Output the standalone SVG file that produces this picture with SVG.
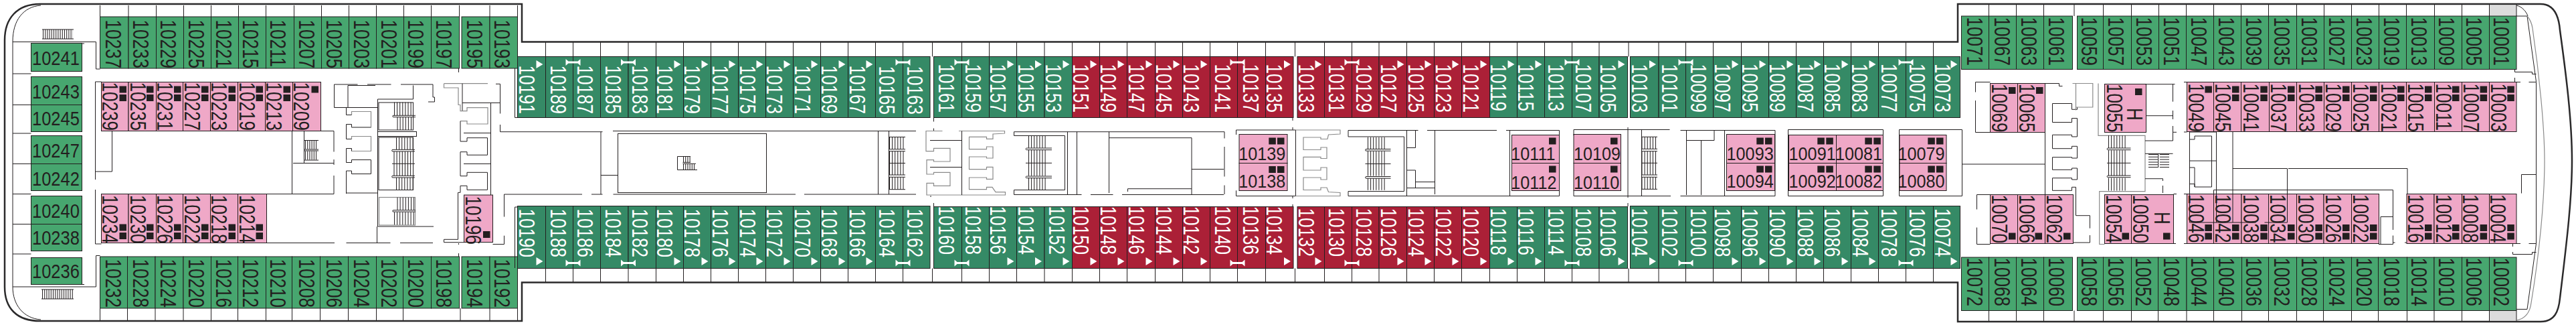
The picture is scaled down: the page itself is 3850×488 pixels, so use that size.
<svg xmlns="http://www.w3.org/2000/svg" width="3850" height="488" viewBox="0 0 3850 488">
<style>
text{font-family:"Liberation Sans",Arial,sans-serif;font-size:33px;fill:#231f20}
text.w{fill:#fff}
text.h{font-size:30px}
text.p{font-size:28px}
.c rect{stroke:#231f20;stroke-width:1}
.lg rect{fill:#47a66f}.dg rect{fill:#358a66}.rd rect{fill:#ab2037}.pk rect{fill:#efa8c7}
.l path,.l rect{fill:none;stroke:#231f20}
.l path:not([stroke-width]),.l rect{stroke-width:1}
.l path.g,.l rect.g{stroke:#8a8a8a;stroke-width:1.2}
.l path.st{stroke-dasharray:1 3.1}
.l path.ss{stroke-dasharray:1 2.2}
.l path.tr{stroke-dasharray:1 2.8}
#hull{fill:none;stroke:#2b2a2b;stroke-width:2.5}
</style>
<defs>
<polygon id="tri" points="-14,0 -4,6 -14,12" fill="#fff"/>
<path id="ib" d="M-11-5L-7-1.500H7L11-5V5L7 1.500H-7L-11 5Z" fill="#fff"/>
<rect id="sq" width="10.500" height="10" fill="#231f20"/>
</defs>
<rect width="3850" height="488" fill="#fff"/>
<rect x="3720.700" y="8" width="40.300" height="16" fill="#dcdcdc"/>
<rect x="3720.700" y="464" width="40.300" height="14" fill="#dcdcdc"/>

<g id="cabins-top-left" class="c lg">
<g id="c10237"><rect x="149.500" y="25" width="42.500" height="77"/><text transform="matrix(0 .79 -1 0 157.500 29.500)">10237</text></g>
<g id="c10233"><rect x="192" y="25" width="41.500" height="77"/><text transform="matrix(0 .79 -1 0 198.500 29.500)">10233</text></g>
<g id="c10229"><rect x="233.500" y="25" width="41" height="77"/><text transform="matrix(0 .79 -1 0 239.500 29.500)">10229</text></g>
<g id="c10225"><rect x="274.500" y="25" width="41" height="77"/><text transform="matrix(0 .79 -1 0 281.500 29.500)">10225</text></g>
<g id="c10221"><rect x="315.500" y="25" width="41" height="77"/><text transform="matrix(0 .79 -1 0 322.500 29.500)">10221</text></g>
<g id="c10215"><rect x="356.500" y="25" width="41" height="77"/><text transform="matrix(0 .79 -1 0 363 29.500)">10215</text></g>
<g id="c10211"><rect x="397.500" y="25" width="42" height="77"/><text transform="matrix(0 .79 -1 0 404 29.500)">10211</text></g>
<g id="c10207"><rect x="439.500" y="25" width="41" height="77"/><text transform="matrix(0 .79 -1 0 446.500 29.500)">10207</text></g>
<g id="c10205"><rect x="480.500" y="25" width="41" height="77"/><text transform="matrix(0 .79 -1 0 487.500 29.500)">10205</text></g>
<g id="c10203"><rect x="521.500" y="25" width="41" height="77"/><text transform="matrix(0 .79 -1 0 528.500 29.500)">10203</text></g>
<g id="c10201"><rect x="562.500" y="25" width="41" height="77"/><text transform="matrix(0 .79 -1 0 569.500 29.500)">10201</text></g>
<g id="c10199"><rect x="603.500" y="25" width="41" height="77"/><text transform="matrix(0 .79 -1 0 610 29.500)">10199</text></g>
<g id="c10197"><rect x="644.500" y="25" width="42" height="77"/><text transform="matrix(0 .79 -1 0 652 29.500)">10197</text></g>
<g id="c10195"><rect x="690" y="25" width="42" height="77"/><text transform="matrix(0 .79 -1 0 697.500 29.500)">10195</text></g>
<g id="c10193"><rect x="732" y="25" width="41.500" height="77"/><text transform="matrix(0 .79 -1 0 739 29.500)">10193</text></g>
</g>

<g id="cabins-bottom-left" class="c lg">
<g id="c10232"><rect x="149.500" y="383" width="41" height="77"/><text transform="matrix(0 .79 -1 0 157.500 386.500)">10232</text></g>
<g id="c10228"><rect x="190.500" y="383" width="41.500" height="77"/><text transform="matrix(0 .79 -1 0 198.500 386.500)">10228</text></g>
<g id="c10224"><rect x="232" y="383" width="42" height="77"/><text transform="matrix(0 .79 -1 0 239.500 386.500)">10224</text></g>
<g id="c10220"><rect x="274" y="383" width="41.500" height="77"/><text transform="matrix(0 .79 -1 0 281.500 386.500)">10220</text></g>
<g id="c10216"><rect x="315.500" y="383" width="40" height="77"/><text transform="matrix(0 .79 -1 0 322.500 386.500)">10216</text></g>
<g id="c10212"><rect x="355.500" y="383" width="42" height="77"/><text transform="matrix(0 .79 -1 0 363 386.500)">10212</text></g>
<g id="c10210"><rect x="397.500" y="383" width="39" height="77"/><text transform="matrix(0 .79 -1 0 404 386.500)">10210</text></g>
<g id="c10208"><rect x="436.500" y="383" width="42" height="77"/><text transform="matrix(0 .79 -1 0 446.500 386.500)">10208</text></g>
<g id="c10206"><rect x="478.500" y="383" width="42" height="77"/><text transform="matrix(0 .79 -1 0 487.500 386.500)">10206</text></g>
<g id="c10204"><rect x="520.500" y="383" width="42" height="77"/><text transform="matrix(0 .79 -1 0 528.500 386.500)">10204</text></g>
<g id="c10202"><rect x="562.500" y="383" width="40" height="77"/><text transform="matrix(0 .79 -1 0 569.500 386.500)">10202</text></g>
<g id="c10200"><rect x="602.500" y="383" width="42" height="77"/><text transform="matrix(0 .79 -1 0 610 386.500)">10200</text></g>
<g id="c10198"><rect x="644.500" y="383" width="42" height="77"/><text transform="matrix(0 .79 -1 0 652 386.500)">10198</text></g>
<g id="c10194"><rect x="690" y="383" width="42" height="77"/><text transform="matrix(0 .79 -1 0 697.500 386.500)">10194</text></g>
<g id="c10192"><rect x="732" y="383" width="41.500" height="77"/><text transform="matrix(0 .79 -1 0 739 386.500)">10192</text></g>
</g>

<g id="cabins-aft-end" class="c lg">
<g id="c10241"><rect x="46.500" y="64.500" width="76" height="42"/><text class="h" transform="matrix(.85 0 0 1 48 97.300)">10241</text></g>
<g id="c10243"><rect x="46.500" y="114.500" width="76" height="42"/><text class="h" transform="matrix(.85 0 0 1 48 147)">10243</text></g>
<g id="c10245"><rect x="46.500" y="156.500" width="76" height="40"/><text class="h" transform="matrix(.85 0 0 1 48 186.700)">10245</text></g>
<g id="c10247"><rect x="46.500" y="202.500" width="76" height="42"/><text class="h" transform="matrix(.85 0 0 1 48 235)">10247</text></g>
<g id="c10242"><rect x="46.500" y="244.500" width="76" height="40"/><text class="h" transform="matrix(.85 0 0 1 48 276.700)">10242</text></g>
<g id="c10240"><rect x="46.500" y="292.500" width="76" height="42"/><text class="h" transform="matrix(.85 0 0 1 48 325)">10240</text></g>
<g id="c10238"><rect x="46.500" y="334.500" width="76" height="40"/><text class="h" transform="matrix(.85 0 0 1 48 365)">10238</text></g>
<g id="c10236"><rect x="46.500" y="384.500" width="76" height="40"/><text class="h" transform="matrix(.85 0 0 1 48 415)">10236</text></g>
</g>

<g id="cabins-pink-left" class="c pk">
<g id="c10239"><rect x="151.500" y="122.500" width="40.500" height="73"/><text transform="matrix(0 .79 -1 0 153 122.500)">10239</text><use href="#sq" x="178.500" y="128.500"/><use href="#sq" x="178.500" y="141"/></g>
<g id="c10235"><rect x="192" y="122.500" width="41.500" height="73"/><text transform="matrix(0 .79 -1 0 194.500 122.500)">10235</text><use href="#sq" x="219" y="128.500"/><use href="#sq" x="219" y="141"/></g>
<g id="c10231"><rect x="233.500" y="122.500" width="40" height="73"/><text transform="matrix(0 .79 -1 0 234.700 122.500)">10231</text><use href="#sq" x="260" y="128.500"/><use href="#sq" x="260" y="141"/></g>
<g id="c10227"><rect x="273.500" y="122.500" width="41" height="73"/><text transform="matrix(0 .79 -1 0 276.300 122.500)">10227</text><use href="#sq" x="301" y="128.500"/><use href="#sq" x="301" y="141"/></g>
<g id="c10223"><rect x="314.500" y="122.500" width="41" height="73"/><text transform="matrix(0 .79 -1 0 316.300 122.500)">10223</text><use href="#sq" x="341.500" y="128.500"/><use href="#sq" x="341.500" y="141"/></g>
<g id="c10219"><rect x="355.500" y="122.500" width="41" height="73"/><text transform="matrix(0 .79 -1 0 358 122.500)">10219</text><use href="#sq" x="382.500" y="128.500"/><use href="#sq" x="382.500" y="141"/></g>
<g id="c10213"><rect x="396.500" y="122.500" width="41" height="73"/><text transform="matrix(0 .79 -1 0 398 122.500)">10213</text><use href="#sq" x="423.500" y="128.500"/><use href="#sq" x="423.500" y="141"/></g>
<g id="c10209"><rect x="437.500" y="122.500" width="42" height="73"/><text transform="matrix(0 .79 -1 0 438.800 122.500)">10209</text><use href="#sq" x="465.500" y="128.500"/></g>
<g id="c10234"><rect x="151.500" y="289.500" width="40.500" height="73"/><text transform="matrix(0 .79 -1 0 153 291)">10234</text><use href="#sq" x="178.500" y="334.500"/><use href="#sq" x="178.500" y="347"/></g>
<g id="c10230"><rect x="192" y="289.500" width="41.500" height="73"/><text transform="matrix(0 .79 -1 0 194.500 291)">10230</text><use href="#sq" x="219" y="334.500"/><use href="#sq" x="219" y="347"/></g>
<g id="c10226"><rect x="233.500" y="289.500" width="40" height="73"/><text transform="matrix(0 .79 -1 0 234.700 291)">10226</text><use href="#sq" x="260" y="334.500"/><use href="#sq" x="260" y="347"/></g>
<g id="c10222"><rect x="273.500" y="289.500" width="41" height="73"/><text transform="matrix(0 .79 -1 0 276.300 291)">10222</text><use href="#sq" x="301" y="334.500"/><use href="#sq" x="301" y="347"/></g>
<g id="c10218"><rect x="314.500" y="289.500" width="41" height="73"/><text transform="matrix(0 .79 -1 0 316.300 291)">10218</text><use href="#sq" x="341.500" y="334.500"/><use href="#sq" x="341.500" y="347"/></g>
<g id="c10214"><rect x="355.500" y="289.500" width="43" height="73"/><text transform="matrix(0 .79 -1 0 358 291)">10214</text><use href="#sq" x="382.500" y="334.500"/><use href="#sq" x="382.500" y="347"/></g>
<g id="c10196"><rect x="693.500" y="291" width="43" height="70.500"/><text transform="matrix(0 .79 -1 0 696 292.500)">10196</text><use href="#sq" x="722" y="345"/></g>
</g>

<g id="cabins-mid-top">
<g class="c dg">
<g id="c10191"><rect x="773.500" y="84.500" width="42" height="91"/><text class="w" transform="matrix(0 .79 -1 0 776 97.500)">10191</text></g>
<g id="c10189"><rect x="815.500" y="84.500" width="41" height="91"/><text class="w" transform="matrix(0 .79 -1 0 822.500 97.500)">10189</text></g>
<g id="c10187"><rect x="856.500" y="84.500" width="41" height="91"/><text class="w" transform="matrix(0 .79 -1 0 863.300 97.500)">10187</text></g>
<g id="c10185"><rect x="897.500" y="84.500" width="41.500" height="91"/><text class="w" transform="matrix(0 .79 -1 0 904.500 97.500)">10185</text></g>
<g id="c10183"><rect x="939" y="84.500" width="41.500" height="91"/><text class="w" transform="matrix(0 .79 -1 0 945.300 97.500)">10183</text></g>
<g id="c10181"><rect x="980.500" y="84.500" width="41" height="91"/><text class="w" transform="matrix(0 .79 -1 0 982 97.500)">10181</text></g>
<g id="c10179"><rect x="1021.500" y="84.500" width="41" height="91"/><text class="w" transform="matrix(0 .79 -1 0 1023 97.500)">10179</text></g>
<g id="c10177"><rect x="1062.500" y="84.500" width="41" height="91"/><text class="w" transform="matrix(0 .79 -1 0 1064.500 97.500)">10177</text></g>
<g id="c10175"><rect x="1103.500" y="84.500" width="41" height="91"/><text class="w" transform="matrix(0 .79 -1 0 1105.500 97.500)">10175</text></g>
<g id="c10173"><rect x="1144.500" y="84.500" width="41" height="91"/><text class="w" transform="matrix(0 .79 -1 0 1146 97.500)">10173</text></g>
<g id="c10171"><rect x="1185.500" y="84.500" width="41" height="91"/><text class="w" transform="matrix(0 .79 -1 0 1187.500 97.500)">10171</text></g>
<g id="c10169"><rect x="1226.500" y="84.500" width="41" height="91"/><text class="w" transform="matrix(0 .79 -1 0 1228 97.500)">10169</text></g>
<g id="c10167"><rect x="1267.500" y="84.500" width="41" height="91"/><text class="w" transform="matrix(0 .79 -1 0 1270 97.500)">10167</text></g>
<g id="c10165"><rect x="1308.500" y="84.500" width="41" height="91"/><text class="w" transform="matrix(0 .79 -1 0 1314 98.500)">10165</text></g>
<g id="c10163"><rect x="1349.500" y="84.500" width="40.500" height="91"/><text class="w" transform="matrix(0 .79 -1 0 1355.500 98.500)">10163</text></g>
<g id="c10161"><rect x="1395.500" y="84.500" width="42" height="91"/><text class="w" transform="matrix(0 .79 -1 0 1402.500 95.500)">10161</text></g>
<g id="c10159"><rect x="1437.500" y="84.500" width="41" height="91"/><text class="w" transform="matrix(0 .79 -1 0 1443.300 95.500)">10159</text></g>
<g id="c10157"><rect x="1478.500" y="84.500" width="41" height="91"/><text class="w" transform="matrix(0 .79 -1 0 1480 95.500)">10157</text></g>
<g id="c10155"><rect x="1519.500" y="84.500" width="41.500" height="91"/><text class="w" transform="matrix(0 .79 -1 0 1521.500 95.500)">10155</text></g>
<g id="c10153"><rect x="1561" y="84.500" width="41.500" height="91"/><text class="w" transform="matrix(0 .79 -1 0 1562.500 95.500)">10153</text></g>
<g id="c10119"><rect x="2226.500" y="84.500" width="41" height="91"/><text class="w" transform="matrix(0 .79 -1 0 2228 95.500)">10119</text></g>
<g id="c10115"><rect x="2267.500" y="84.500" width="41" height="91"/><text class="w" transform="matrix(0 .79 -1 0 2269 95.500)">10115</text></g>
<g id="c10113"><rect x="2308.500" y="84.500" width="41" height="91"/><text class="w" transform="matrix(0 .79 -1 0 2314 95.500)">10113</text></g>
<g id="c10107"><rect x="2349.500" y="84.500" width="40.500" height="91"/><text class="w" transform="matrix(0 .79 -1 0 2355 95.500)">10107</text></g>
<g id="c10105"><rect x="2390" y="84.500" width="42.500" height="91"/><text class="w" transform="matrix(0 .79 -1 0 2392 95.500)">10105</text></g>
<g id="c10103"><rect x="2436.500" y="84.500" width="42.500" height="91"/><text class="w" transform="matrix(0 .79 -1 0 2439 95.500)">10103</text></g>
<g id="c10101"><rect x="2479" y="84.500" width="40.500" height="91"/><text class="w" transform="matrix(0 .79 -1 0 2484 95.500)">10101</text></g>
<g id="c10099"><rect x="2519.500" y="84.500" width="41" height="91"/><text class="w" transform="matrix(0 .79 -1 0 2526.500 95.500)">10099</text></g>
<g id="c10097"><rect x="2560.500" y="84.500" width="42" height="91"/><text class="w" transform="matrix(0 .79 -1 0 2563 95)">10097</text></g>
<g id="c10095"><rect x="2602.500" y="84.500" width="41" height="91"/><text class="w" transform="matrix(0 .79 -1 0 2604 95)">10095</text></g>
<g id="c10089"><rect x="2643.500" y="84.500" width="41" height="91"/><text class="w" transform="matrix(0 .79 -1 0 2645 95)">10089</text></g>
<g id="c10087"><rect x="2684.500" y="84.500" width="41" height="91"/><text class="w" transform="matrix(0 .79 -1 0 2686.500 95)">10087</text></g>
<g id="c10085"><rect x="2725.500" y="84.500" width="41" height="91"/><text class="w" transform="matrix(0 .79 -1 0 2727.300 95)">10085</text></g>
<g id="c10083"><rect x="2766.500" y="84.500" width="41" height="91"/><text class="w" transform="matrix(0 .79 -1 0 2768 95)">10083</text></g>
<g id="c10077"><rect x="2807.500" y="84.500" width="41" height="91"/><text class="w" transform="matrix(0 .79 -1 0 2812 95)">10077</text></g>
<g id="c10075"><rect x="2848.500" y="84.500" width="41" height="91"/><text class="w" transform="matrix(0 .79 -1 0 2854 95)">10075</text></g>
<g id="c10073"><rect x="2889.500" y="84.500" width="40" height="91"/><text class="w" transform="matrix(0 .79 -1 0 2892 95)">10073</text></g>
</g>
<g class="c rd">
<g id="c10151"><rect x="1602.500" y="84.500" width="41" height="91"/><text class="w" transform="matrix(0 .79 -1 0 1603.500 95.500)">10151</text></g>
<g id="c10149"><rect x="1643.500" y="84.500" width="41" height="91"/><text class="w" transform="matrix(0 .79 -1 0 1645.300 95.500)">10149</text></g>
<g id="c10147"><rect x="1684.500" y="84.500" width="42" height="91"/><text class="w" transform="matrix(0 .79 -1 0 1687 95.500)">10147</text></g>
<g id="c10145"><rect x="1726.500" y="84.500" width="41" height="91"/><text class="w" transform="matrix(0 .79 -1 0 1728.300 95.500)">10145</text></g>
<g id="c10143"><rect x="1767.500" y="84.500" width="41" height="91"/><text class="w" transform="matrix(0 .79 -1 0 1769 95.500)">10143</text></g>
<g id="c10141"><rect x="1808.500" y="84.500" width="41" height="91"/><text class="w" transform="matrix(0 .79 -1 0 1815.500 95.500)">10141</text></g>
<g id="c10137"><rect x="1849.500" y="84.500" width="42" height="91"/><text class="w" transform="matrix(0 .79 -1 0 1857.500 95.500)">10137</text></g>
<g id="c10135"><rect x="1891.500" y="84.500" width="41.500" height="91"/><text class="w" transform="matrix(0 .79 -1 0 1893 95.500)">10135</text></g>
<g id="c10133"><rect x="1939" y="84.500" width="40.500" height="91"/><text class="w" transform="matrix(0 .79 -1 0 1941.200 95.500)">10133</text></g>
<g id="c10131"><rect x="1979.500" y="84.500" width="41" height="91"/><text class="w" transform="matrix(0 .79 -1 0 1986 95.500)">10131</text></g>
<g id="c10129"><rect x="2020.500" y="84.500" width="40.500" height="91"/><text class="w" transform="matrix(0 .79 -1 0 2027 95.500)">10129</text></g>
<g id="c10127"><rect x="2061" y="84.500" width="41.500" height="91"/><text class="w" transform="matrix(0 .79 -1 0 2063.700 95.500)">10127</text></g>
<g id="c10125"><rect x="2102.500" y="84.500" width="41" height="91"/><text class="w" transform="matrix(0 .79 -1 0 2105 95.500)">10125</text></g>
<g id="c10123"><rect x="2143.500" y="84.500" width="41" height="91"/><text class="w" transform="matrix(0 .79 -1 0 2145.700 95.500)">10123</text></g>
<g id="c10121"><rect x="2184.500" y="84.500" width="42" height="91"/><text class="w" transform="matrix(0 .79 -1 0 2186.500 95.500)">10121</text></g>
</g>
</g>

<g id="cabins-mid-bottom">
<g class="c dg">
<g id="c10190"><rect x="773.500" y="307.500" width="42" height="93"/><text class="w" transform="matrix(0 .79 -1 0 776 311.500)">10190</text></g>
<g id="c10188"><rect x="815.500" y="307.500" width="41" height="93"/><text class="w" transform="matrix(0 .79 -1 0 822.500 311.500)">10188</text></g>
<g id="c10186"><rect x="856.500" y="307.500" width="41" height="93"/><text class="w" transform="matrix(0 .79 -1 0 863.300 311.500)">10186</text></g>
<g id="c10184"><rect x="897.500" y="307.500" width="41.500" height="93"/><text class="w" transform="matrix(0 .79 -1 0 905 311.500)">10184</text></g>
<g id="c10182"><rect x="939" y="307.500" width="41.500" height="93"/><text class="w" transform="matrix(0 .79 -1 0 945.300 311.500)">10182</text></g>
<g id="c10180"><rect x="980.500" y="307.500" width="41" height="93"/><text class="w" transform="matrix(0 .79 -1 0 982 311.500)">10180</text></g>
<g id="c10178"><rect x="1021.500" y="307.500" width="41" height="93"/><text class="w" transform="matrix(0 .79 -1 0 1023 311.500)">10178</text></g>
<g id="c10176"><rect x="1062.500" y="307.500" width="41" height="93"/><text class="w" transform="matrix(0 .79 -1 0 1064.500 311.500)">10176</text></g>
<g id="c10174"><rect x="1103.500" y="307.500" width="41" height="93"/><text class="w" transform="matrix(0 .79 -1 0 1105.500 311.500)">10174</text></g>
<g id="c10172"><rect x="1144.500" y="307.500" width="41" height="93"/><text class="w" transform="matrix(0 .79 -1 0 1146 311.500)">10172</text></g>
<g id="c10170"><rect x="1185.500" y="307.500" width="41" height="93"/><text class="w" transform="matrix(0 .79 -1 0 1187.500 311.500)">10170</text></g>
<g id="c10168"><rect x="1226.500" y="307.500" width="41" height="93"/><text class="w" transform="matrix(0 .79 -1 0 1228 311.500)">10168</text></g>
<g id="c10166"><rect x="1267.500" y="307.500" width="41" height="93"/><text class="w" transform="matrix(0 .79 -1 0 1270 311.500)">10166</text></g>
<g id="c10164"><rect x="1308.500" y="307.500" width="41" height="93"/><text class="w" transform="matrix(0 .79 -1 0 1314 311.500)">10164</text></g>
<g id="c10162"><rect x="1349.500" y="307.500" width="40.500" height="93"/><text class="w" transform="matrix(0 .79 -1 0 1355.500 311.500)">10162</text></g>
<g id="c10160"><rect x="1395.500" y="308.500" width="42" height="92"/><text class="w" transform="matrix(0 .79 -1 0 1402.500 307.500)">10160</text></g>
<g id="c10158"><rect x="1437.500" y="308.500" width="41" height="92"/><text class="w" transform="matrix(0 .79 -1 0 1443.300 307.500)">10158</text></g>
<g id="c10156"><rect x="1478.500" y="308.500" width="41" height="92"/><text class="w" transform="matrix(0 .79 -1 0 1480 307.500)">10156</text></g>
<g id="c10154"><rect x="1519.500" y="308.500" width="41.500" height="92"/><text class="w" transform="matrix(0 .79 -1 0 1521.500 307.500)">10154</text></g>
<g id="c10152"><rect x="1561" y="308.500" width="41.500" height="92"/><text class="w" transform="matrix(0 .79 -1 0 1567.500 307.500)">10152</text></g>
<g id="c10118"><rect x="2226.500" y="308.500" width="41" height="92"/><text class="w" transform="matrix(0 .79 -1 0 2228 310.500)">10118</text></g>
<g id="c10116"><rect x="2267.500" y="308.500" width="41" height="92"/><text class="w" transform="matrix(0 .79 -1 0 2269 310.500)">10116</text></g>
<g id="c10114"><rect x="2308.500" y="308.500" width="41" height="92"/><text class="w" transform="matrix(0 .79 -1 0 2314 310.500)">10114</text></g>
<g id="c10108"><rect x="2349.500" y="308.500" width="40.500" height="92"/><text class="w" transform="matrix(0 .79 -1 0 2355 310.500)">10108</text></g>
<g id="c10106"><rect x="2390" y="308.500" width="42.500" height="92"/><text class="w" transform="matrix(0 .79 -1 0 2392 310.500)">10106</text></g>
<g id="c10104"><rect x="2436.500" y="307.500" width="42.500" height="93"/><text class="w" transform="matrix(0 .79 -1 0 2439 310.500)">10104</text></g>
<g id="c10102"><rect x="2479" y="307.500" width="40.500" height="93"/><text class="w" transform="matrix(0 .79 -1 0 2484 310.500)">10102</text></g>
<g id="c10100"><rect x="2519.500" y="307.500" width="41" height="93"/><text class="w" transform="matrix(0 .79 -1 0 2526.500 310.500)">10100</text></g>
<g id="c10098"><rect x="2560.500" y="307.500" width="42" height="93"/><text class="w" transform="matrix(0 .79 -1 0 2563 311)">10098</text></g>
<g id="c10096"><rect x="2602.500" y="307.500" width="41" height="93"/><text class="w" transform="matrix(0 .79 -1 0 2604 311)">10096</text></g>
<g id="c10090"><rect x="2643.500" y="307.500" width="41" height="93"/><text class="w" transform="matrix(0 .79 -1 0 2645 311)">10090</text></g>
<g id="c10088"><rect x="2684.500" y="307.500" width="41" height="93"/><text class="w" transform="matrix(0 .79 -1 0 2686.500 311)">10088</text></g>
<g id="c10086"><rect x="2725.500" y="307.500" width="41" height="93"/><text class="w" transform="matrix(0 .79 -1 0 2727.300 311)">10086</text></g>
<g id="c10084"><rect x="2766.500" y="307.500" width="41" height="93"/><text class="w" transform="matrix(0 .79 -1 0 2769 311)">10084</text></g>
<g id="c10078"><rect x="2807.500" y="307.500" width="41" height="93"/><text class="w" transform="matrix(0 .79 -1 0 2812 311)">10078</text></g>
<g id="c10076"><rect x="2848.500" y="307.500" width="41" height="93"/><text class="w" transform="matrix(0 .79 -1 0 2854 311)">10076</text></g>
<g id="c10074"><rect x="2889.500" y="307.500" width="40" height="93"/><text class="w" transform="matrix(0 .79 -1 0 2892 311)">10074</text></g>
</g>
<g class="c rd">
<g id="c10150"><rect x="1602.500" y="308.500" width="41" height="92"/><text class="w" transform="matrix(0 .79 -1 0 1603.500 307.500)">10150</text></g>
<g id="c10148"><rect x="1643.500" y="308.500" width="41" height="92"/><text class="w" transform="matrix(0 .79 -1 0 1645.300 307.500)">10148</text></g>
<g id="c10146"><rect x="1684.500" y="308.500" width="42" height="92"/><text class="w" transform="matrix(0 .79 -1 0 1687 307.500)">10146</text></g>
<g id="c10144"><rect x="1726.500" y="308.500" width="41" height="92"/><text class="w" transform="matrix(0 .79 -1 0 1728.300 307.500)">10144</text></g>
<g id="c10142"><rect x="1767.500" y="308.500" width="41" height="92"/><text class="w" transform="matrix(0 .79 -1 0 1769 307.500)">10142</text></g>
<g id="c10140"><rect x="1808.500" y="308.500" width="41" height="92"/><text class="w" transform="matrix(0 .79 -1 0 1815.500 307.500)">10140</text></g>
<g id="c10136"><rect x="1849.500" y="308.500" width="42" height="92"/><text class="w" transform="matrix(0 .79 -1 0 1857.500 307.500)">10136</text></g>
<g id="c10134"><rect x="1891.500" y="308.500" width="41.500" height="92"/><text class="w" transform="matrix(0 .79 -1 0 1893 307.500)">10134</text></g>
<g id="c10132"><rect x="1939" y="308.500" width="40.500" height="92"/><text class="w" transform="matrix(0 .79 -1 0 1941.200 310.500)">10132</text></g>
<g id="c10130"><rect x="1979.500" y="308.500" width="41" height="92"/><text class="w" transform="matrix(0 .79 -1 0 1986 310.500)">10130</text></g>
<g id="c10128"><rect x="2020.500" y="308.500" width="40.500" height="92"/><text class="w" transform="matrix(0 .79 -1 0 2027 310.500)">10128</text></g>
<g id="c10126"><rect x="2061" y="308.500" width="41.500" height="92"/><text class="w" transform="matrix(0 .79 -1 0 2063.700 310.500)">10126</text></g>
<g id="c10124"><rect x="2102.500" y="308.500" width="41" height="92"/><text class="w" transform="matrix(0 .79 -1 0 2105 310.500)">10124</text></g>
<g id="c10122"><rect x="2143.500" y="308.500" width="41" height="92"/><text class="w" transform="matrix(0 .79 -1 0 2145.700 310.500)">10122</text></g>
<g id="c10120"><rect x="2184.500" y="308.500" width="42" height="92"/><text class="w" transform="matrix(0 .79 -1 0 2186.500 310.500)">10120</text></g>
</g>
</g>

<g id="cabin-marks">
<use href="#tri" x="815.500" y="90"/><use href="#tri" x="1021.500" y="90"/><use href="#tri" x="1062.500" y="90"/><use href="#tri" x="1103.500" y="90"/><use href="#tri" x="1144.500" y="90"/><use href="#tri" x="1185.500" y="90"/><use href="#tri" x="1226.500" y="90"/><use href="#tri" x="1267.500" y="90"/><use href="#tri" x="1308.500" y="90"/><use href="#tri" x="1519.500" y="90"/><use href="#tri" x="1561" y="90"/><use href="#tri" x="1602.500" y="90"/><use href="#tri" x="1643.500" y="90"/><use href="#tri" x="1684.500" y="90"/><use href="#tri" x="1726.500" y="90"/><use href="#tri" x="1767.500" y="90"/><use href="#tri" x="1808.500" y="90"/><use href="#tri" x="1933" y="90"/><use href="#tri" x="1979.500" y="90"/><use href="#tri" x="2102.500" y="90"/><use href="#tri" x="2143.500" y="90"/><use href="#tri" x="2184.500" y="90"/><use href="#tri" x="2226.500" y="90"/><use href="#tri" x="2267.500" y="90"/><use href="#tri" x="2308.500" y="90"/><use href="#tri" x="2432.500" y="90"/><use href="#tri" x="2479" y="90"/><use href="#tri" x="2602.500" y="90"/><use href="#tri" x="2643.500" y="90"/><use href="#tri" x="2684.500" y="90"/><use href="#tri" x="2725.500" y="90"/><use href="#tri" x="2766.500" y="90"/><use href="#tri" x="2807.500" y="90"/><use href="#tri" x="2929.500" y="90"/>
<use href="#tri" x="815.500" y="384"/><use href="#tri" x="1021.500" y="384"/><use href="#tri" x="1062.500" y="384"/><use href="#tri" x="1103.500" y="384"/><use href="#tri" x="1144.500" y="384"/><use href="#tri" x="1185.500" y="384"/><use href="#tri" x="1226.500" y="384"/><use href="#tri" x="1267.500" y="384"/><use href="#tri" x="1308.500" y="384"/><use href="#tri" x="1519.500" y="384"/><use href="#tri" x="1561" y="384"/><use href="#tri" x="1602.500" y="384"/><use href="#tri" x="1643.500" y="384"/><use href="#tri" x="1684.500" y="384"/><use href="#tri" x="1726.500" y="384"/><use href="#tri" x="1767.500" y="384"/><use href="#tri" x="1808.500" y="384"/><use href="#tri" x="1933" y="384"/><use href="#tri" x="1979.500" y="384"/><use href="#tri" x="2102.500" y="384"/><use href="#tri" x="2143.500" y="384"/><use href="#tri" x="2184.500" y="384"/><use href="#tri" x="2226.500" y="384"/><use href="#tri" x="2267.500" y="384"/><use href="#tri" x="2308.500" y="384"/><use href="#tri" x="2432.500" y="384"/><use href="#tri" x="2479" y="384"/><use href="#tri" x="2602.500" y="384"/><use href="#tri" x="2643.500" y="384"/><use href="#tri" x="2684.500" y="384"/><use href="#tri" x="2725.500" y="384"/><use href="#tri" x="2766.500" y="384"/><use href="#tri" x="2807.500" y="384"/><use href="#tri" x="2929.500" y="384"/>
<use href="#ib" x="856.500" y="93"/><use href="#ib" x="939" y="93"/><use href="#ib" x="1349.500" y="93"/><use href="#ib" x="1437.500" y="93"/><use href="#ib" x="1849.500" y="93"/><use href="#ib" x="2020.500" y="93"/><use href="#ib" x="2349.500" y="93"/><use href="#ib" x="2519.500" y="93"/><use href="#ib" x="2848.500" y="93"/>
<use href="#ib" x="856.500" y="392.500"/><use href="#ib" x="939" y="392.500"/><use href="#ib" x="1349.500" y="392.500"/><use href="#ib" x="1437.500" y="392.500"/><use href="#ib" x="1849.500" y="392.500"/><use href="#ib" x="2020.500" y="392.500"/><use href="#ib" x="2349.500" y="392.500"/><use href="#ib" x="2519.500" y="392.500"/><use href="#ib" x="2848.500" y="392.500"/>
</g>

<g id="cabins-mid-pink" class="c pk">
<g id="c10139"><rect x="1852" y="200.500" width="72" height="43"/><text class="p" transform="matrix(.9 0 0 1 1851.300 239.300)">10139</text><use href="#sq" x="1896.300" y="205.500"/><use href="#sq" x="1909" y="205.500"/></g>
<g id="c10138"><rect x="1852" y="243.500" width="72" height="41"/><text class="p" transform="matrix(.9 0 0 1 1851.300 280)">10138</text><use href="#sq" x="1896.300" y="248"/><use href="#sq" x="1909" y="248"/></g>
<g id="c10111"><rect x="2259.500" y="201.500" width="71" height="42"/><text class="p" transform="matrix(.9 0 0 1 2258.300 238.500)">10111</text><use href="#sq" x="2315" y="205.500"/></g>
<g id="c10112"><rect x="2259.500" y="243.500" width="71" height="41"/><text class="p" transform="matrix(.9 0 0 1 2258.300 281.500)">10112</text><use href="#sq" x="2315" y="247.500"/></g>
<g id="c10109"><rect x="2352" y="200.500" width="70.500" height="43"/><text class="p" transform="matrix(.9 0 0 1 2352 238.500)">10109</text><use href="#sq" x="2407" y="205.500"/></g>
<g id="c10110"><rect x="2352" y="243.500" width="70.500" height="41"/><text class="p" transform="matrix(.9 0 0 1 2352 281.500)">10110</text><use href="#sq" x="2407" y="247.500"/></g>
<g id="c10093"><rect x="2580.500" y="200.500" width="72" height="43"/><text class="p" transform="matrix(.9 0 0 1 2580.600 239.300)">10093</text><use href="#sq" x="2625.300" y="205.500"/><use href="#sq" x="2638" y="205.500"/></g>
<g id="c10094"><rect x="2580.500" y="243.500" width="72" height="41"/><text class="p" transform="matrix(.9 0 0 1 2580.600 280)">10094</text><use href="#sq" x="2625.300" y="247.500"/><use href="#sq" x="2638" y="247.500"/></g>
<g id="c10091"><rect x="2673.500" y="201.500" width="71" height="42"/><text class="p" transform="matrix(.9 0 0 1 2673.600 239.300)">10091</text><use href="#sq" x="2716.300" y="205.500"/><use href="#sq" x="2729.300" y="205.500"/></g>
<g id="c10092"><rect x="2673.500" y="243.500" width="71" height="41"/><text class="p" transform="matrix(.9 0 0 1 2673.600 280)">10092</text><use href="#sq" x="2716.300" y="247.500"/><use href="#sq" x="2729.300" y="247.500"/></g>
<g id="c10081"><rect x="2744.500" y="201.500" width="70" height="42"/><text class="p" transform="matrix(.9 0 0 1 2743 239.300)">10081</text><use href="#sq" x="2787.300" y="205.500"/><use href="#sq" x="2800.300" y="205.500"/></g>
<g id="c10082"><rect x="2744.500" y="243.500" width="70" height="41"/><text class="p" transform="matrix(.9 0 0 1 2743 280)">10082</text><use href="#sq" x="2787.300" y="247.500"/><use href="#sq" x="2800.300" y="247.500"/></g>
<g id="c10079"><rect x="2839" y="201.500" width="70" height="42"/><text class="p" transform="matrix(.9 0 0 1 2836.500 239.300)">10079</text><use href="#sq" x="2881.300" y="205.500"/><use href="#sq" x="2894" y="205.500"/></g>
<g id="c10080"><rect x="2839" y="243.500" width="70" height="41"/><text class="p" transform="matrix(.9 0 0 1 2836.500 280)">10080</text><use href="#sq" x="2881.300" y="247.500"/><use href="#sq" x="2894" y="247.500"/></g>
</g>

<g id="cabins-top-right" class="c lg">
<g id="c10071"><rect x="2931.500" y="24" width="41" height="79.500"/><text transform="matrix(0 .79 -1 0 2939.500 25.500)">10071</text></g>
<g id="c10067"><rect x="2972.500" y="24" width="41" height="79.500"/><text transform="matrix(0 .79 -1 0 2980.500 25.500)">10067</text></g>
<g id="c10063"><rect x="3013.500" y="24" width="41" height="79.500"/><text transform="matrix(0 .79 -1 0 3021 25.500)">10063</text></g>
<g id="c10061"><rect x="3054.500" y="24" width="43" height="79.500"/><text transform="matrix(0 .79 -1 0 3061.500 25.500)">10061</text></g>
<g id="c10059"><rect x="3104.500" y="24" width="39" height="79.500"/><text transform="matrix(0 .79 -1 0 3110.500 25.500)">10059</text></g>
<g id="c10057"><rect x="3143.500" y="24" width="42" height="79.500"/><text transform="matrix(0 .79 -1 0 3151 25.500)">10057</text></g>
<g id="c10053"><rect x="3185.500" y="24" width="41" height="79.500"/><text transform="matrix(0 .79 -1 0 3193 25.500)">10053</text></g>
<g id="c10051"><rect x="3226.500" y="24" width="41" height="79.500"/><text transform="matrix(0 .79 -1 0 3233.500 25.500)">10051</text></g>
<g id="c10047"><rect x="3267.500" y="24" width="41" height="79.500"/><text transform="matrix(0 .79 -1 0 3274.500 25.500)">10047</text></g>
<g id="c10043"><rect x="3308.500" y="24" width="41" height="79.500"/><text transform="matrix(0 .79 -1 0 3316 25.500)">10043</text></g>
<g id="c10039"><rect x="3349.500" y="24" width="41" height="79.500"/><text transform="matrix(0 .79 -1 0 3357 25.500)">10039</text></g>
<g id="c10035"><rect x="3390.500" y="24" width="42" height="79.500"/><text transform="matrix(0 .79 -1 0 3398.500 25.500)">10035</text></g>
<g id="c10031"><rect x="3432.500" y="24" width="41" height="79.500"/><text transform="matrix(0 .79 -1 0 3439.500 25.500)">10031</text></g>
<g id="c10027"><rect x="3473.500" y="24" width="41" height="79.500"/><text transform="matrix(0 .79 -1 0 3480.500 25.500)">10027</text></g>
<g id="c10023"><rect x="3514.500" y="24" width="41" height="79.500"/><text transform="matrix(0 .79 -1 0 3521.500 25.500)">10023</text></g>
<g id="c10019"><rect x="3555.500" y="24" width="41" height="79.500"/><text transform="matrix(0 .79 -1 0 3562.500 25.500)">10019</text></g>
<g id="c10013"><rect x="3596.500" y="24" width="42" height="79.500"/><text transform="matrix(0 .79 -1 0 3603.500 25.500)">10013</text></g>
<g id="c10009"><rect x="3638.500" y="24" width="41" height="79.500"/><text transform="matrix(0 .79 -1 0 3644.500 25.500)">10009</text></g>
<g id="c10005"><rect x="3679.500" y="24" width="41" height="79.500"/><text transform="matrix(0 .79 -1 0 3685.500 25.500)">10005</text></g>
<g id="c10001"><rect x="3720.500" y="24" width="40.500" height="79.500"/><text transform="matrix(0 .79 -1 0 3727 25.500)">10001</text></g>
</g>

<g id="cabins-bottom-right" class="c lg">
<g id="c10072"><rect x="2931.500" y="384" width="41" height="79.500"/><text transform="matrix(0 .79 -1 0 2939.500 384.500)">10072</text></g>
<g id="c10068"><rect x="2972.500" y="384" width="41" height="79.500"/><text transform="matrix(0 .79 -1 0 2980.500 384.500)">10068</text></g>
<g id="c10064"><rect x="3013.500" y="384" width="41" height="79.500"/><text transform="matrix(0 .79 -1 0 3021 384.500)">10064</text></g>
<g id="c10060"><rect x="3054.500" y="384" width="43" height="79.500"/><text transform="matrix(0 .79 -1 0 3061.500 384.500)">10060</text></g>
<g id="c10058"><rect x="3104.500" y="384" width="39" height="79.500"/><text transform="matrix(0 .79 -1 0 3110.500 384.500)">10058</text></g>
<g id="c10056"><rect x="3143.500" y="384" width="42" height="79.500"/><text transform="matrix(0 .79 -1 0 3151 384.500)">10056</text></g>
<g id="c10052"><rect x="3185.500" y="384" width="40" height="79.500"/><text transform="matrix(0 .79 -1 0 3192 384.500)">10052</text></g>
<g id="c10048"><rect x="3225.500" y="384" width="42.500" height="79.500"/><text transform="matrix(0 .79 -1 0 3233.500 384.500)">10048</text></g>
<g id="c10044"><rect x="3268" y="384" width="40.500" height="79.500"/><text transform="matrix(0 .79 -1 0 3275 384.500)">10044</text></g>
<g id="c10040"><rect x="3308.500" y="384" width="42" height="79.500"/><text transform="matrix(0 .79 -1 0 3316 384.500)">10040</text></g>
<g id="c10036"><rect x="3350.500" y="384" width="40" height="79.500"/><text transform="matrix(0 .79 -1 0 3357 384.500)">10036</text></g>
<g id="c10032"><rect x="3390.500" y="384" width="42" height="79.500"/><text transform="matrix(0 .79 -1 0 3398.500 384.500)">10032</text></g>
<g id="c10028"><rect x="3432.500" y="384" width="40" height="79.500"/><text transform="matrix(0 .79 -1 0 3439.500 384.500)">10028</text></g>
<g id="c10024"><rect x="3472.500" y="384" width="42" height="79.500"/><text transform="matrix(0 .79 -1 0 3480.500 384.500)">10024</text></g>
<g id="c10020"><rect x="3514.500" y="384" width="40" height="79.500"/><text transform="matrix(0 .79 -1 0 3521.500 384.500)">10020</text></g>
<g id="c10018"><rect x="3554.500" y="384" width="43" height="79.500"/><text transform="matrix(0 .79 -1 0 3562.500 384.500)">10018</text></g>
<g id="c10014"><rect x="3597.500" y="384" width="40.500" height="79.500"/><text transform="matrix(0 .79 -1 0 3603.500 384.500)">10014</text></g>
<g id="c10010"><rect x="3638" y="384" width="41.500" height="79.500"/><text transform="matrix(0 .79 -1 0 3644.500 384.500)">10010</text></g>
<g id="c10006"><rect x="3679.500" y="384" width="41" height="79.500"/><text transform="matrix(0 .79 -1 0 3685.500 384.500)">10006</text></g>
<g id="c10002"><rect x="3720.500" y="384" width="40.500" height="79.500"/><text transform="matrix(0 .79 -1 0 3727 384.500)">10002</text></g>
</g>

<g id="cabins-pink-right" class="c pk">
<g id="c10069"><rect x="2974.500" y="124.500" width="41" height="73"/><text transform="matrix(0 .79 -1 0 2977 125)">10069</text><use href="#sq" x="3002" y="130"/></g>
<g id="c10065"><rect x="3015.500" y="124.500" width="41" height="73"/><text transform="matrix(0 .79 -1 0 3018 125)">10065</text><use href="#sq" x="3043" y="130"/></g>
<g id="c10055"><rect x="3145.500" y="125.500" width="62" height="72"/><text transform="matrix(0 .79 -1 0 3148.500 125)">10055</text><text transform="matrix(0 .79 -1 0 3179 161)">H</text><use href="#sq" x="3191" y="132"/></g>
<g id="c10070"><rect x="2974.500" y="290.500" width="41" height="73"/><text transform="matrix(0 .79 -1 0 2977 290.500)">10070</text><use href="#sq" x="3002" y="347.500"/></g>
<g id="c10066"><rect x="3015.500" y="290.500" width="41" height="73"/><text transform="matrix(0 .79 -1 0 3018 290.500)">10066</text><use href="#sq" x="3041.500" y="347.500"/></g>
<g id="c10062"><rect x="3056.500" y="290.500" width="42" height="73"/><text transform="matrix(0 .79 -1 0 3059 290.500)">10062</text><use href="#sq" x="3084" y="347.500"/></g>
<g id="c10054"><rect x="3145.500" y="290.500" width="40" height="73"/><text transform="matrix(0 .79 -1 0 3147.500 290.500)">10054</text><use href="#sq" x="3171.500" y="347.500"/></g>
<g id="c10050"><rect x="3185.500" y="290.500" width="63" height="73"/><text transform="matrix(0 .79 -1 0 3188 290.500)">10050</text><text transform="matrix(0 .79 -1 0 3220 316)">H</text><use href="#sq" x="3233" y="347.500"/></g>
<g id="c10049"><rect x="3268.500" y="122.500" width="40" height="74"/><text transform="matrix(0 .79 -1 0 3270.500 124.500)">10049</text><use href="#sq" x="3295.400" y="128.500"/></g>
<g id="c10045"><rect x="3308.500" y="122.500" width="41" height="74"/><text transform="matrix(0 .79 -1 0 3311 124.500)">10045</text><use href="#sq" x="3336" y="128.500"/><use href="#sq" x="3336" y="141"/></g>
<g id="c10041"><rect x="3349.500" y="122.500" width="42" height="74"/><text transform="matrix(0 .79 -1 0 3352.500 124.500)">10041</text><use href="#sq" x="3378.300" y="128.500"/><use href="#sq" x="3378.300" y="141"/></g>
<g id="c10037"><rect x="3391.500" y="122.500" width="41" height="74"/><text transform="matrix(0 .79 -1 0 3394 124.500)">10037</text><use href="#sq" x="3419" y="128.500"/><use href="#sq" x="3419" y="141"/></g>
<g id="c10033"><rect x="3432.500" y="122.500" width="41" height="74"/><text transform="matrix(0 .79 -1 0 3435.500 124.500)">10033</text><use href="#sq" x="3460.400" y="128.500"/><use href="#sq" x="3460.400" y="141"/></g>
<g id="c10029"><rect x="3473.500" y="122.500" width="41" height="74"/><text transform="matrix(0 .79 -1 0 3475.700 124.500)">10029</text><use href="#sq" x="3501" y="128.500"/><use href="#sq" x="3501" y="141"/></g>
<g id="c10025"><rect x="3514.500" y="122.500" width="41" height="74"/><text transform="matrix(0 .79 -1 0 3517 124.500)">10025</text><use href="#sq" x="3542" y="128.500"/><use href="#sq" x="3542" y="141"/></g>
<g id="c10021"><rect x="3555.500" y="122.500" width="41" height="74"/><text transform="matrix(0 .79 -1 0 3558.500 124.500)">10021</text><use href="#sq" x="3583" y="128.500"/><use href="#sq" x="3583" y="141"/></g>
<g id="c10015"><rect x="3596.500" y="122.500" width="42" height="74"/><text transform="matrix(0 .79 -1 0 3599 124.500)">10015</text><use href="#sq" x="3624" y="128.500"/><use href="#sq" x="3624" y="141"/></g>
<g id="c10011"><rect x="3638.500" y="122.500" width="41" height="74"/><text transform="matrix(0 .79 -1 0 3640.700 124.500)">10011</text><use href="#sq" x="3665" y="128.500"/><use href="#sq" x="3665" y="141"/></g>
<g id="c10007"><rect x="3679.500" y="122.500" width="41" height="74"/><text transform="matrix(0 .79 -1 0 3682 124.500)">10007</text><use href="#sq" x="3706.600" y="128.500"/><use href="#sq" x="3706.600" y="141"/></g>
<g id="c10003"><rect x="3720.500" y="122.500" width="40.500" height="74"/><text transform="matrix(0 .79 -1 0 3722.500 124.500)">10003</text><use href="#sq" x="3747.300" y="128.500"/><use href="#sq" x="3747.300" y="141"/></g>
<g id="c10046"><rect x="3268.500" y="289.500" width="40" height="74"/><text transform="matrix(0 .79 -1 0 3270.500 290)">10046</text><use href="#sq" x="3295.400" y="335"/><use href="#sq" x="3295.400" y="347.500"/></g>
<g id="c10042"><rect x="3308.500" y="289.500" width="41.500" height="74"/><text transform="matrix(0 .79 -1 0 3311 290)">10042</text><use href="#sq" x="3336" y="335"/><use href="#sq" x="3336" y="347.500"/></g>
<g id="c10038"><rect x="3350" y="289.500" width="40.500" height="74"/><text transform="matrix(0 .79 -1 0 3352.500 290)">10038</text><use href="#sq" x="3378.300" y="335"/><use href="#sq" x="3378.300" y="347.500"/></g>
<g id="c10034"><rect x="3390.500" y="289.500" width="42" height="74"/><text transform="matrix(0 .79 -1 0 3393 290)">10034</text><use href="#sq" x="3419" y="335"/><use href="#sq" x="3419" y="347.500"/></g>
<g id="c10030"><rect x="3432.500" y="289.500" width="40.500" height="74"/><text transform="matrix(0 .79 -1 0 3434.500 290)">10030</text><use href="#sq" x="3460.400" y="335"/><use href="#sq" x="3460.400" y="347.500"/></g>
<g id="c10026"><rect x="3473" y="289.500" width="41.500" height="74"/><text transform="matrix(0 .79 -1 0 3475.700 290)">10026</text><use href="#sq" x="3501" y="335"/><use href="#sq" x="3501" y="347.500"/></g>
<g id="c10022"><rect x="3514.500" y="289.500" width="41" height="74"/><text transform="matrix(0 .79 -1 0 3516.500 290)">10022</text><use href="#sq" x="3542" y="335"/><use href="#sq" x="3542" y="347.500"/></g>
<g id="c10016"><rect x="3597" y="289.500" width="41" height="74"/><text transform="matrix(0 .79 -1 0 3599 290)">10016</text><use href="#sq" x="3624" y="335"/><use href="#sq" x="3624" y="347.500"/></g>
<g id="c10012"><rect x="3638" y="289.500" width="41.500" height="74"/><text transform="matrix(0 .79 -1 0 3640.700 290)">10012</text><use href="#sq" x="3665" y="335"/><use href="#sq" x="3665" y="347.500"/></g>
<g id="c10008"><rect x="3679.500" y="289.500" width="41" height="74"/><text transform="matrix(0 .79 -1 0 3681 290)">10008</text><use href="#sq" x="3706.600" y="335"/><use href="#sq" x="3706.600" y="347.500"/></g>
<g id="c10004"><rect x="3720.500" y="289.500" width="40.500" height="74"/><text transform="matrix(0 .79 -1 0 3721.500 290)">10004</text><use href="#sq" x="3747.300" y="335"/><use href="#sq" x="3747.300" y="347.500"/></g>
</g>

<path id="hull" d="M780 62.500V6H60C25 6 7 28 7 60V428C7 460 25 479 60 479H780V421.500H2926V480H3797C3818 480 3824 465 3826 445C3835 370 3844 300 3844 240C3844 180 3835 110 3826 45C3824 20 3815 6 3797 6H2926V62.500Z"/>

<g id="connectors" class="l">
<path d="M149.500 8V25M192 8V25M233.500 8V25M274.500 8V25M315.500 8V25M356.500 8V25M397.500 8V25M439.500 8V25M480.500 8V25M521.500 8V25M562.500 8V25M603.500 8V25M644.500 8V25M686.500 8V25M732 8V25M773.500 8V25
M149.500 460V478M190.500 460V478M232 460V478M274 460V478M315.500 460V478M355.500 460V478M397.500 460V478M436.500 460V478M478.500 460V478M520.500 460V478M562.500 460V478M602.500 460V478M688 460V478M732 460V478M773.500 460V478"/>
<path d="M815.500 63V84.500M856.500 63V84.500M897.500 63V84.500M939 63V84.500M980.500 63V84.500M1021.500 63V84.500M1062.500 63V84.500M1103.500 63V84.500M1144.500 63V84.500M1185.500 63V84.500M1226.500 63V84.500M1267.500 63V84.500M1308.500 63V84.500M1349.500 63V84.500M1393.500 63V84.500M1437.500 63V84.500M1478.500 63V84.500M1519.500 63V84.500M1561 63V84.500M1602.500 63V84.500M1643.500 63V84.500M1684.500 63V84.500M1726.500 63V84.500M1767.500 63V84.500M1808.500 63V84.500M1849.500 63V84.500M1891.500 63V84.500M1935.500 63V84.500M1979.500 63V84.500M2020.500 63V84.500M2061 63V84.500M2102.500 63V84.500M2143.500 63V84.500M2184.500 63V84.500M2226.500 63V84.500M2267.500 63V84.500M2308.500 63V84.500M2349.500 63V84.500M2390 63V84.500M2434 63V84.500M2479 63V84.500M2519.500 63V84.500M2560.500 63V84.500M2602.500 63V84.500M2643.500 63V84.500M2684.500 63V84.500M2725.500 63V84.500M2766.500 63V84.500M2807.500 63V84.500M2848.500 63V84.500M2889.500 63V84.500"/>
<path d="M815.500 400.500V421M856.500 400.500V421M897.500 400.500V421M939 400.500V421M980.500 400.500V421M1021.500 400.500V421M1062.500 400.500V421M1103.500 400.500V421M1144.500 400.500V421M1185.500 400.500V421M1226.500 400.500V421M1267.500 400.500V421M1308.500 400.500V421M1349.500 400.500V421M1393.500 400.500V421M1437.500 400.500V421M1478.500 400.500V421M1519.500 400.500V421M1561 400.500V421M1602.500 400.500V421M1643.500 400.500V421M1684.500 400.500V421M1726.500 400.500V421M1767.500 400.500V421M1808.500 400.500V421M1849.500 400.500V421M1891.500 400.500V421M1935.500 400.500V421M1979.500 400.500V421M2020.500 400.500V421M2061 400.500V421M2102.500 400.500V421M2143.500 400.500V421M2184.500 400.500V421M2226.500 400.500V421M2267.500 400.500V421M2308.500 400.500V421M2349.500 400.500V421M2390 400.500V421M2434 400.500V421M2479 400.500V421M2519.500 400.500V421M2560.500 400.500V421M2602.500 400.500V421M2643.500 400.500V421M2684.500 400.500V421M2725.500 400.500V421M2766.500 400.500V421M2807.500 400.500V421M2848.500 400.500V421M2889.500 400.500V421"/>
<path d="M2972.500 7V24M3013.500 7V24M3054.500 7V24M3100 7V24M3143.500 7V24M3185.500 7V24M3226.500 7V24M3267.500 7V24M3308.500 7V24M3349.500 7V24M3390.500 7V24M3432.500 7V24M3473.500 7V24M3514.500 7V24M3555.500 7V24M3596.500 7V24M3638.500 7V24M3679.500 7V24M3720.500 7V24M3761 7V24
M2972.500 463.500V479M3013.500 463.500V479M3054.500 463.500V479M3100 463.500V479M3143.500 463.500V479M3185.500 463.500V479M3225.500 463.500V479M3268 463.500V479M3308.500 463.500V479M3350.500 463.500V479M3390.500 463.500V479M3432.500 463.500V479M3472.500 463.500V479M3514.500 463.500V479M3554.500 463.500V479M3597.500 463.500V479M3638 463.500V479M3679.500 463.500V479M3720.500 463.500V479M3761 463.500V479"/>
<path d="M61 8C35 10 19 30 19 62V428C19 455 35 475 61 477"/>
<path d="M19 62.500H143.500V103H149.500M19 110H46.500M19 156.500H46.500M19 199H46.500M19 244.500H46.500M19 289.500H46.500M19 334.500H46.500M19 379H46.500M19 428H143.500V381.500H149.500M122.500 65H126M122.500 424.500H126"/>
<path d="M63 44H110M63 58H110M62 432H110M62 446H110"/>
<path class="ss" stroke-width="14" d="M64 51H109M63 439H109"/>
<path d="M151.500 122H142.500V268M167.500 195.500V256H142.500M142.500 283V364H151.500M436.500 195.500V289.500M437.500 195.500H499V226.500M499 238V246M499 262V289.500H398.500M454.500 195.500V243.500M438 243.500H499M398.500 362.500H500M517.500 362.500H583.500M598 362.500H647"/>
<path d="M454.500 209.500H476M454.500 223H476M454.500 225H476M454.500 239H476"/>
<path class="ss" stroke-width="13" d="M456 216H475M456 232H475"/>
<path d="M534.500 126H499.500V160.500H564.500M549 126H584.500M599 126H647V145H649.500V152H640M520 127.500V160M520 127.500H561M617.500 127.500V148H564.500V338M564.500 338H648M563.500 338V362.500"/>
<path d="M517.500 161V171.500H525.500V166.500H554.500V190H525.500V185.500H517.500V207.500H525.500V203.500H554.500V225.500H525.500V221.500H517.500V242.500H525.500V238.500H554.500V259.500H525.500V255H517.500V289M517.500 288H564.500"/>
<path class="g" d="M525.500 171.500V166.500H554.500V190H525.500M525.500 207.500V203.500H554.500V225.500H525.500"/>
<rect x="566" y="153" width="51.500" height="41"/><rect x="564.500" y="196.500" width="58" height="7"/><rect x="566" y="205" width="51.500" height="78.500"/><rect class="g" x="566.500" y="294.500" width="54" height="41.500"/>
<path class="st" stroke-width="20" d="M589 162.500H618"/>
<path class="st" stroke-width="19" d="M593.500 184.500H618"/>
<path class="st" stroke-width="18" d="M592 214H617M592 274H617"/>
<path class="st" stroke-width="36" d="M588.500 244H617"/>
<path class="st" stroke-width="19" d="M593.500 304H620M589 326H620"/>
<path d="M621 172.300H588a1.200 1.200 0 0 0 0 2.400H621M620 223.300H587a1.300 1.300 0 0 0 0 2.700H620M586 244.300H620M620 262.300H587a1.300 1.300 0 0 0 0 2.700H620M621 313.700H588a1.200 1.200 0 0 0 0 2.400H621"/>
<path class="g" d="M663.500 124.700H729M663.500 124.700V131H685V156.500H688V165.700H698V160.700H729V185H698V180.700H688"/>
<path d="M688 180.700V211H698V205.700H728.500V231.300H698V226.700H688V262.700H698V257.300H728.500V283.300H698V277.300H688V287.300H684.500V357.300H663.500V361.700H693.500"/>
<path d="M691 124.700V165M691 153.500H747.500M747.500 125.300V169.500M741 125.300H747.500M733.500 153.500V291M693 198.500H733.500M693 244.500H733.500M685.500 102V108M685.500 363V365M685.500 378V383"/>
<path d="M736.500 364.500H753.500V351.700M753.500 323.500V290H870M884 290H900.500M916.500 290H1189M1202 290H1369M747.500 186V196.700H900.500M916 195.500H1369M898 196.700V290M898 261.500H923.500"/>
<rect x="923.500" y="199.500" width="222" height="88"/>
<path d="M1012.500 253.500V233.500H1032M1020.500 242.300H1032M1012.500 253.500H1042M1020.500 244.300H1040"/>
<path class="ss" stroke-width="9" d="M1021 238H1032M1021 249H1040"/>
<path d="M769.500 102V175.500H773.500M769.500 400V309H773.500M1312.500 195.500V290M1328.500 195.500V290"/>
<path class="st" stroke-width="18.400" d="M1329 213.500H1353M1329 273.500H1353"/>
<path class="st" stroke-width="35.300" d="M1329 243.400H1353"/>
<path d="M1328.500 204.500H1353M1328.500 222.700H1353M1328.500 225.700H1353M1328.500 243.500H1353M1328.500 261H1353M1328.500 264.300H1353M1328.500 282.700H1353"/>
<path d="M1395.500 175V181.500M1395.500 191.500V195M1395.500 303V308M1391 292V294"/>
<path class="g" d="M1408.500 195.500H1384V225.700H1395.500V221.300H1420V241H1395.500V238.700H1385V260H1395.500V257.300H1420V277.300H1395.500V273.300H1385V291H1502.500V286.700H1488L1483 279.300H1474.500V282.700H1448.500V265H1474.500V267.300H1484V249.300H1474.500V252.700H1448.500V234H1474.500V236H1484V219H1474.500V222.700H1448.500V204.300H1474.500V207.300H1484V200L1501.500 199V195.500H1433"/>
<path d="M1437.500 195.500V291M1390 209.500H1437.500M1390 249.500H1437.500"/>
<path d="M1830 206.500V196.700H1515.500V202.500H1591.500V283.500H1515.500V290.500H1616.500M1630 290.500H1663.500M1677 290.500H1829M1595.500 196.700V290M1609.500 196.700V290M1657.500 196.700V288M1657.500 205.700H1781V290M1781 252.500H1829M1830 219V263.500M1830 276.500V290M1685.500 286V281.700H1781"/>
<path class="st" stroke-width="18.500" d="M1537 211.500H1565M1537 274.500H1565"/>
<path class="st" stroke-width="38.500" d="M1537 243.300H1565"/>
<path d="M1572 221H1534.500a1.300 1.300 0 0 0 0 2.700H1572M1533 243.300H1572M1572 263H1534.500a1.300 1.300 0 0 0 0 2.700H1572"/>
<path d="M1847.500 201V194H1936.500V292.500H1847.500V284.300M1932 175V180M1932 190V194M1932 292.500V296M1932 305V308"/>
<path class="g" d="M1936.500 194H2003V200L1985.500 201L1984 207.500H1974V205H1948V223.500H1974V220H1983V236.500H1974V234.300H1948V254H1974V250H1983V268H1974V265H1948V283.500H1974V280H1983L1985.500 286.500L2003 287.500V292.500H1936.500"/>
<path d="M2015 194.500V204H2098.500V285.500H2015V292.500H2330.500V194.500H2251M2237 194.500H2133M2119.500 194.500H2015M2102.500 194.500V292.500M2115.500 194.500V220.500H2102.500M2102.500 254H2115.500V280.500M2115.500 271.500H2144.500M2102.500 280.500H2144.500M2144.500 194.500V290M2256.500 194.500V292.500"/>
<path class="st" stroke-width="17.500" d="M2044 213.500H2072M2044 275H2072"/>
<path class="st" stroke-width="37" d="M2044 244H2072"/>
<path d="M2078.500 222.500H2042a1.300 1.300 0 0 0 0 2.700H2078.500M2040.500 244.500H2078.500M2078.500 263.500H2042a1.300 1.300 0 0 0 0 2.700H2078.500"/>
<path d="M2352 202V193.500H2495.500M2352 284.300V292.500H2497M2433 190V295M2433 303V308M2453.500 193.500V292.500"/>
<path class="st" stroke-width="18" d="M2453.500 213.300H2477M2453.500 273.300H2477"/>
<path class="st" stroke-width="35" d="M2453.500 243.300H2477"/>
<path d="M2453.500 204.300H2477M2453.500 222.300H2477M2453.500 225.700H2477M2453.500 243.300H2477M2453.500 261H2477M2453.500 264.300H2477M2453.500 282.300H2477"/>
<path d="M2511.500 194.500H2653V292.500H2511.500M2520.500 194.500V291M2520.500 209.500H2562V195M2542.500 209.500V291M2577.500 195V292.500M2672.500 193.500H2814.500V292.500H2672.500ZM2838.500 193.500H2932.500V292.500H2838.500ZM2932.500 245H3056.500"/>
<path d="M2974.500 122.500H2952.500V137.500M2952.500 150V197.500H3056.500M3056.500 124.500H3077.500V128.500H3082.500M3056.500 197.500V290.500M2974.500 290.500H2954.500V312.500M2954.500 339.500V364.500H2974.500"/>
<path d="M3067.500 154.500V182.500H3096.500V176.500H3104.500V204H3096.500V201.300H3067.500V221.700H3096.500V218.300H3104.500V236H3096.500V234.700H3067.500V253.300H3096.500V251H3104.500V268H3096.500V265.700H3067.500V284.300H3096.500V279.300H3102.500V321.700H3123.500V340.700M3123.500 351V362H3099M3067.500 154.500H3096.500V163.300H3104.500V160"/>
<path class="g" d="M3097.500 124.500H3127.800V160H3102.500V164.500M3102.500 124.500V160"/>
<path class="g" d="M3136 124.500V202.300H3206V285.700H3137.700V364.500H3145.500"/>
<path class="st" stroke-width="19" d="M3151 211.500H3178M3151 275H3178"/>
<path class="st" stroke-width="38" d="M3151 243.300H3178"/>
<path d="M3184.500 221H3150.500a1.300 1.300 0 0 0 0 2.700H3184.500M3149 243.300H3184.500M3184.500 262H3150.500a1.300 1.300 0 0 0 0 2.700H3184.500"/>
<path d="M3206 125.700H3250.500M3247.500 125.700V151.700M3247.500 165V178M3247.500 188V210H3206M3207.500 172.700H3247.500M3206 229.300H3247.500M3206 266.700H3232.500V270M3232.500 277V288M3248.500 289.500H3253M3247 197.300H3253M3264 122.500H3268.500M3264 197H3268.500M3264 289.500H3268.500M3264 363.500H3268.500M3247 363.500H3252"/>
<path class="tr" stroke-width="14" d="M3218 230V250M3235 230V250"/>
<path d="M3225.700 229.300V250"/>
<path d="M3272.500 197V208H3280V203H3305.500V279H3280V274.500H3272.500V250H3280V279M3272.500 197H3312.500V332M3272.500 240H3312.500M3272.500 332H3371.500M3384.500 332H3418.500V251.500H3337M3420 251.500H3598V289.500M3337 197V332M3272.500 208V332"/>
<path d="M3308.500 289.500V283.500H3576.500V343M3576.500 351.500V364.500H3555M3558 364.500V323.500H3576.500M3576.500 362H3579.500M3594 362H3597"/>
<path d="M3761 122.500H3767M3779.500 122.500H3790.500V363.500H3779.500M3767 363.500H3761M3758.500 116V122.500M3755.500 363.500V368M3755.500 376V379.500H3784.500V376.500H3790.500M3758.500 103.500V107.500H3784.500V110.500H3790.500M3768.500 288.500V260.500H3790.500"/>
<path d="M3761 8C3770 10 3776 18 3778 24M3761 24H3777L3790.500 122M3790.500 363.500L3777 461.500H3761"/>
<path class="g" d="M3777 24C3782 30 3784 35 3785 42C3795 110 3803 190 3803 240C3803 300 3795 380 3783 452C3781 468 3772 476 3761 478"/>
</g>
</svg>
